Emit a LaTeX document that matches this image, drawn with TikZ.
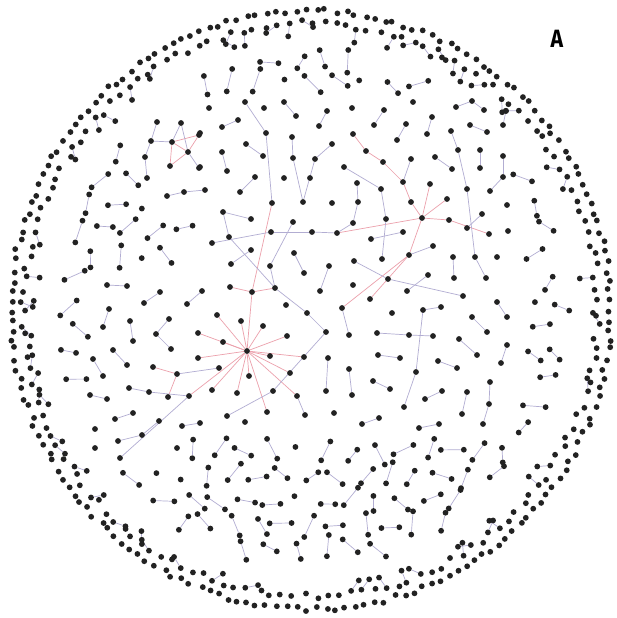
\documentclass[tikz,border=0pt]{standalone}
\usepackage{fontspec}
\setsansfont{Fira Sans}
\usetikzlibrary{backgrounds}
\definecolor{dotc}{HTML}{222222}
\definecolor{lavc}{RGB}{178,173,210}
\definecolor{redc}{RGB}{236,160,172}
\begin{document}
\begin{tikzpicture}[x=1pt,y=-1pt,
  dot/.style={circle,fill=dotc,draw=none,inner sep=0pt,minimum size=5.8pt},
  lav/.style={draw=lavc,line width=0.7pt},
  redl/.style={draw=redc,line width=0.7pt},
  lbl/.style={font=\fontsize{25}{25}\selectfont\sffamily\bfseries,inner sep=0pt}]
\useasboundingbox (0,0) rectangle (616,618);
\begin{pgfonlayer}{background}
\fill[white] (0,0) rectangle (616,618);
\end{pgfonlayer}
\pgfmathsetseed{4711}
% outer ring
\foreach \k in {0,...,189} {
  \pgfmathsetmacro{\ang}{\k*1.8947368+(rnd-0.5)*1.0}
  \pgfmathsetmacro{\rad}{299.5+(rnd-0.5)*5}
  \node[dot] (r\k) at ({311+\rad*cos(\ang)},{310+\rad*sin(\ang)}) {};
}
% second layer
\foreach \k in {0,...,154} {
  \pgfmathsetmacro{\ang}{\k*2.3225806+rnd*1.2}
  \pgfmathsetmacro{\rad}{287+(rnd-0.5)*7}
  \pgfmathsetmacro{\px}{311+\rad*cos(\ang)}
  \pgfmathsetmacro{\py}{310+\rad*sin(\ang)}
  \node[dot] (s\k) at (\px,\py) {};
  \pgfmathtruncatemacro{\haspair}{rnd<0.4}
  \ifnum\haspair=1
    \pgfmathsetmacro{\oa}{\ang+180+(rnd-0.5)*140}
    \node[dot] (t\k) at ({\px+13*cos(\oa)},{\py+13*sin(\oa)}) {};
    \begin{pgfonlayer}{background}\draw[lav] (s\k) -- (t\k);\end{pgfonlayer}
  \fi
}
% interior random pairs
\foreach \j in {0,...,24} {
  \foreach \i in {0,...,23} {
    \pgfmathsetmacro{\cx}{12+\i*26+mod(\j,2)*13+(rnd-0.5)*9}
    \pgfmathsetmacro{\cy}{10+\j*24.5+(rnd-0.5)*9}
    \pgfmathtruncatemacro{\ok}{(veclen(\cx-311,\cy-310)<253)*(1-(\cx>185)*(\cx<522)*(\cy>88)*(\cy<442))*(1-(\cx>134)*(\cx<250)*(\cy>104)*(\cy<206))*(1-(\cx>82)*(\cx<190)*(\cy>272)*(\cy<458))}
    \ifnum\ok=1
      \pgfmathsetmacro{\ang}{rnd*360}
      \pgfmathsetmacro{\hl}{7+rnd*5}
      \pgfmathtruncatemacro{\sng}{rnd<0.1}
      \ifnum\sng=1
        \node[dot] (g\i-\j) at (\cx,\cy) {};
      \else
        \node[dot] (ga\i-\j) at ({\cx+\hl*cos(\ang)},{\cy+\hl*sin(\ang)}) {};
        \node[dot] (gb\i-\j) at ({\cx-\hl*cos(\ang)},{\cy-\hl*sin(\ang)}) {};
        \begin{pgfonlayer}{background}\draw[lav] (ga\i-\j) -- (gb\i-\j);\end{pgfonlayer}
      \fi
    \fi
  }
}
% hand-placed central network
\foreach \n/\x/\y in {a0/247/351, a1/217/315, a2/241/321, a3/263/326, a4/287/336, a5/198/333, a6/223/342, a7/270/356, a8/304/357, a9/198/358, a10/290/373, a11/249/376, a12/237/393, a13/297/396, a14/267/412, a15/212/390, a16/189/396, a17/219/368, a18/202/291, a19/187/304, a20/230/287, a21/252/292, a22/275/288, a23/286/305, a24/307/313, a25/320/291, a26/326/332, a27/328/358, a28/273/391, a29/326/391, a30/305/415, a31/227/416, a32/245/422, a33/182/426, a34/200/423,
 b1/272/203, b2/303/202, b3/332/203, b4/223/212, b5/251/219, b6/293/222, b7/271/232, b8/312/232, b9/337/233, b10/229/237, b11/212/243, b12/251/250, b13/294/253, b14/231/264, b15/270/266, b16/304/273, b17/329/266, b18/240/192, b19/205/190,
 c1/209/108, c2/245/102, c3/264/108, c4/284/102, c5/296/116, c6/327/111, c7/319/126, c8/352/108, c9/384/110, c10/374/125, c11/413/102, c12/406/124, c13/397/140, c14/432/117, c15/427/134, c16/456/107, c17/472/101, c18/484/110, c19/470/125, c20/487/132, c21/506/111, c22/503/125, c23/238/120, c24/222/127, c25/266/133, c26/292/137, c27/332/144, c28/353/134, c29/366/151, c30/383/162, c31/246/144, c32/263/156, c33/222/152, c34/227/171, c35/293/158, c36/315/159, c37/344/167, c38/411/159, c39/435/157, c40/452/169, c41/451/131, c42/458/150, c43/480/150, c44/480/168, c45/503/156, c46/503/177, c47/255/177, c48/284/178, c49/310/178, c50/200/133, c51/200/167,
 d2/357/183, d3/381/189, d4/403/182, d5/430/184, d7/358/202, d8/411/202, d9/447/199, d10/422/218, d11/449/220, d12/482/214, d13/467/228, d14/489/234, d16/353/223, d17/386/219, d18/403/232, d19/371/239, d20/409/255, d21/433/246, d22/354/261, d23/382/259, d24/388/279, d25/428/275, d26/463/296, d27/370/299, d28/407/291, d29/353/285, d30/453/257, d31/454/278, d32/475/257, d33/486/278, d34/497/257, d35/467/189, d36/490/191, d40/507/205, d41/508/231, d43/441/307, d44/342/308, d45/497/302,
 e3/392/313, e4/423/310, e6/349/335, e7/377/333, e8/409/335, e9/433/336, e10/378/355, e11/400/358, e13/349/369, e14/352/395, e15/416/372, e16/373/381, e17/390/389, e18/438/361, e19/457/368, e20/459/339, e21/477/355, e22/472/317, e23/487/332, e25/507/317, e26/507/345, e27/501/363, e28/490/382, e29/489/404, e30/483/424, e31/467/392, e32/462/414, e33/442/391, e34/425/399, e35/404/407, e36/334/413, e37/379/418, e38/362/424, e39/419/428, e40/439/424,
 f1/107/285, f2/127/286, f3/160/292, f4/144/303, f5/109/309, f6/103/327, f7/130/321, f8/133/341, f9/169/319, f10/156/334, f11/171/349, f12/113/350, f13/127/365, f14/93/359, f15/103/376, f16/153/367, f17/177/374, f18/129/388, f19/149/392, f20/168/397, f21/90/395, f22/107/399, f23/133/413, f24/115/419, f25/159/421, f26/142/435, f27/95/429, f28/118/441, f29/95/448, f30/177/448, f31/120/458,
 g1/172/142, g2/199/135, g3/188/152, g4/181/123, g5/170/166, g6/199/168, g7/151/141, g8/157/122, g9/145/157, g10/147/178, g11/167/196, g12/184/192}
  \node[dot] (\n) at (\x,\y) {};
\begin{pgfonlayer}{background}
\foreach \u/\v in {a0/a1, a0/a2, a0/a3, a0/a4, a0/a5, a0/a6, a0/a7, a0/a8, a0/a9, a0/a10, a0/a11, a0/a12, a0/a13, a0/a14, a0/a15, a0/a16, a0/a21, a20/a21, a21/a22, b1/a21, c28/c29, c29/c30, c30/d4, d4/d8, d8/d10, d5/d10, d9/d10, d10/d11, d11/d14, d10/b9, d10/d20, d20/d27, d20/d44, f16/f17, f17/f20, g1/g2, g1/g3, g2/g3, g1/g5, g3/g5}
  \draw[redl] (\u) -- (\v);
\foreach \u/\v in {a18/a19, a22/a24, a24/a26, a26/a28, a28/a31, a29/a27, a30/a13, a33/a34, a17/f17, a16/f31, a25/b17,
 b4/b5, b4/b10, b11/b7, b7/b8, b8/b9, b10/a22, b13/b16, b15/a22, b6/b15, b12/b14, b18/c47,
 c2/c25, c25/b1, c4/c5, c6/c7, c9/c10, c12/c13, c14/c15, c16/c17, c17/c18, c19/c20, c21/c22, c23/c24, c26/c35, c35/b2, c36/c27, c36/b2, c37/d3, c38/d4, c31/c32, c33/c34, c39/c40, c41/c42, c42/d35, c43/c44, c45/c46, d36/c46,
 d2/d7, d7/d16, d16/b9, d3/d17, d17/d23, d22/d24, d24/d26, d35/d32, d32/d33, d12/d13, d30/d31, d18/d19, d28/d25, d20/d21,
 d44/e6, e4/d43, e4/e15, e15/e35, e7/e8, e8/e9, e10/e11, e13/e14, e16/e17, e18/e19, e20/e21, e22/e23, d45/e25, e26/e27, e28/e29, e29/e30, e31/e32, e33/e34, e37/e38, e39/e40,
 f1/f2, f3/f4, f5/f6, f7/f8, f9/f10, f10/f11, f12/f13, f14/f15, f18/f19, f19/a16, f21/f22, f23/f24, f25/f26, f26/f28,
 g1/g4, g4/g3, g3/g6, g7/g1, g7/g8, g7/g9, g9/g10, g11/g12, g12/b19}
  \draw[lav] (\u) -- (\v);
\end{pgfonlayer}
\node[lbl] (lblA) at (557,39) {\scalebox{0.85}[1]{A}};
\end{tikzpicture}
\end{document}
